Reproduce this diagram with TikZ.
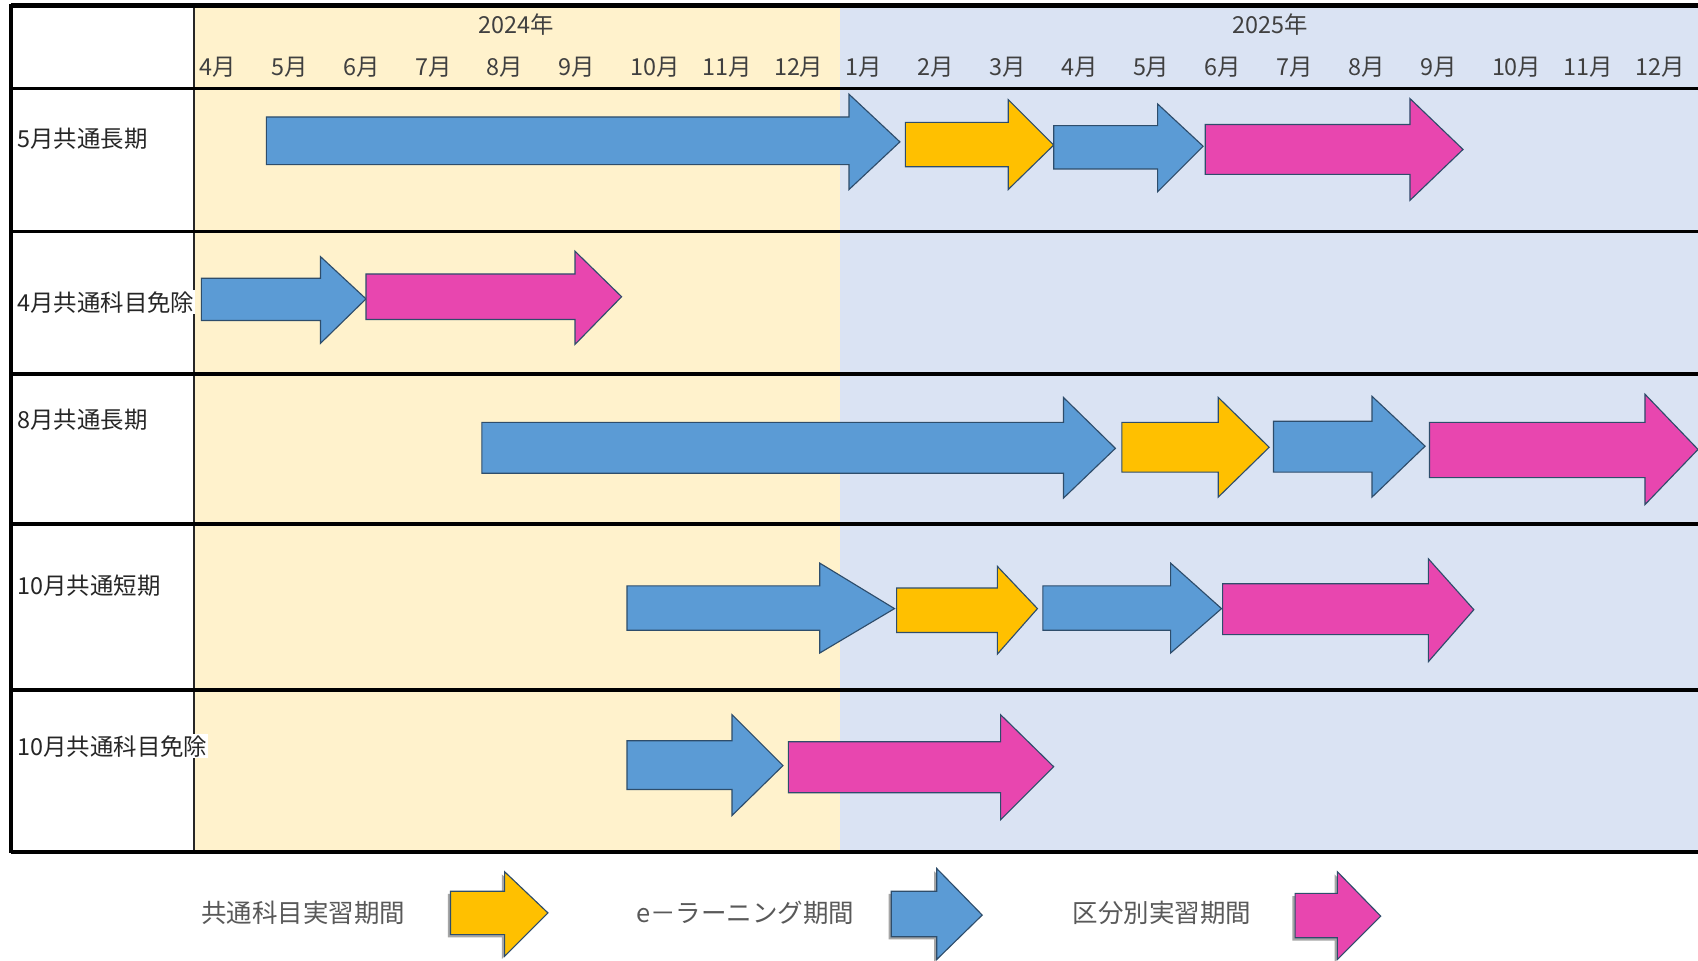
\documentclass[tikz,border=0pt]{standalone}
\usepackage{fontspec}
\setmainfont{Noto Sans CJK JP}
\definecolor{bgyel}{HTML}{FFF2CC}
\definecolor{bgblu}{HTML}{DAE3F3}
\definecolor{arblu}{HTML}{5B9BD5}
\definecolor{aryel}{HTML}{FFC000}
\definecolor{arpnk}{HTML}{E846AF}
\definecolor{arout}{HTML}{2E4D6B}
\definecolor{txt}{HTML}{404040}
\definecolor{legtxt}{HTML}{595959}
\newcommand{\garw}[9]{%
  \draw[arwstyle,fill=#1] (#2,#5) -- (#3,#5) -- (#3,#7) -- (#4,#9) -- (#3,#8) -- (#3,#6) -- (#2,#6) -- cycle;}
\newcommand{\garwsh}[9]{%
  \fill[black!35,xshift=-0.05cm,yshift=-0.05cm] (#2,#5) -- (#3,#5) -- (#3,#7) -- (#4,#9) -- (#3,#8) -- (#3,#6) -- (#2,#6) -- cycle;
  \garw{#1}{#2}{#3}{#4}{#5}{#6}{#7}{#8}{#9}}
\tikzset{
  arwstyle/.style={draw=arout,line width=0.6pt,line join=miter},
  month/.style={anchor=west,inner sep=0pt,text=txt,font=\fontsize{12.3pt}{14pt}\selectfont},
  yearlbl/.style={inner sep=0pt,text=txt,font=\fontsize{12.3pt}{14pt}\selectfont},
  rowlbl/.style={anchor=west,inner sep=0.5pt,fill=white,text=black!85,font=\fontsize{12.3pt}{14pt}\selectfont},
  leglbl/.style={inner sep=0pt,text=legtxt,font=\fontsize{13.4pt}{15pt}\selectfont},
  thickrule/.style={line width=1.8pt,black},
}
\begin{document}
\begin{tikzpicture}[x=0.02cm,y=-0.02cm]
\useasboundingbox (0,0) rectangle (1568,887);
\fill[white] (0,0) rectangle (1568,887);
% backgrounds
\fill[bgyel] (179,5) rectangle (776,787);
\fill[bgblu] (776,5) rectangle (1568,787);
% grid lines
\draw[line width=0.8pt,black!85] (179,5) -- (179,787);
\draw[line width=1.4pt] (10,81.5) -- (1568,81.5);
\foreach \yy in {214,345.5,484,637} \draw[thickrule] (10,\yy) -- (1568,\yy);
\draw[line width=2.2pt] (10,787) -- (1568,787);
\draw[line width=2.2pt] (10,5) -- (1568,5);
\draw[line width=2.2pt] (10,4) -- (10,788);
% headers
\node[yearlbl] (y2024) at (477,23) {2024年};
\node[yearlbl] (y2025) at (1173,23) {2025年};
\foreach \m [count=\k from 0] in {4,5,6,7,8,9,10,11,12,1,2,3,4,5,6,7,8,9,10,11,12}
  \node[month] (m\k) at ({184+66.3*\k},62) {\m 月};
% row labels
\node[rowlbl] (r1) at (15,128) {5月共通長期};
\node[rowlbl] (r2) at (15,279) {4月共通科目免除};
\node[rowlbl] (r3) at (15,388) {8月共通長期};
\node[rowlbl] (r4) at (15,541) {10月共通短期};
\node[rowlbl] (r5) at (15,689) {10月共通科目免除};
% row 1
\garw{arblu}{246}{784}{831}{108}{152}{87}{175}{131}
\garw{aryel}{836}{931}{973}{113}{154}{92}{175}{134}
\garw{arblu}{973}{1069}{1111}{116}{156}{96}{177}{135}
\garw{arpnk}{1113}{1302}{1351}{115}{161}{91}{185}{138}
% row 2
\garw{arblu}{186}{296}{338}{257}{296}{237}{317}{276}
\garw{arpnk}{338}{531}{574}{253}{295}{232}{318}{274}
% row 3
\garw{arblu}{445}{982}{1030}{390}{437}{367}{460}{414}
\garw{aryel}{1036}{1125}{1172}{390}{436}{367}{459}{413}
\garw{arblu}{1176}{1267}{1316}{389}{436}{366}{459}{412}
\garw{arpnk}{1320}{1519}{1568}{390}{441}{364}{466}{415}
% row 4
\garw{arblu}{579}{757}{826}{541}{582}{520}{603}{562}
\garw{aryel}{828}{921}{958}{543}{584}{523}{604}{562}
\garw{arblu}{963}{1081}{1128}{541}{582}{520}{603}{562}
\garw{arpnk}{1129}{1319}{1361}{539}{586}{516}{611}{563}
% row 5
\garw{arblu}{579}{676}{723}{684}{729}{660}{753}{707}
\garw{arpnk}{728}{924}{973}{685}{732}{660}{757}{708}
% legend
\node[leglbl] (l1) at (280,843) {共通科目実習期間};
\node[leglbl] (l2) at (688,843) {e－ラーニング期間};
\node[leglbl] (l3) at (1073,843) {区分別実習期間};
\garwsh{aryel}{416}{466}{506}{823}{863}{805}{883}{843}
\garwsh{arblu}{823}{865}{907}{823}{865}{802}{886}{845}
\garwsh{arpnk}{1196}{1235}{1275}{825}{866}{805}{886}{846}
\end{tikzpicture}
\end{document}
